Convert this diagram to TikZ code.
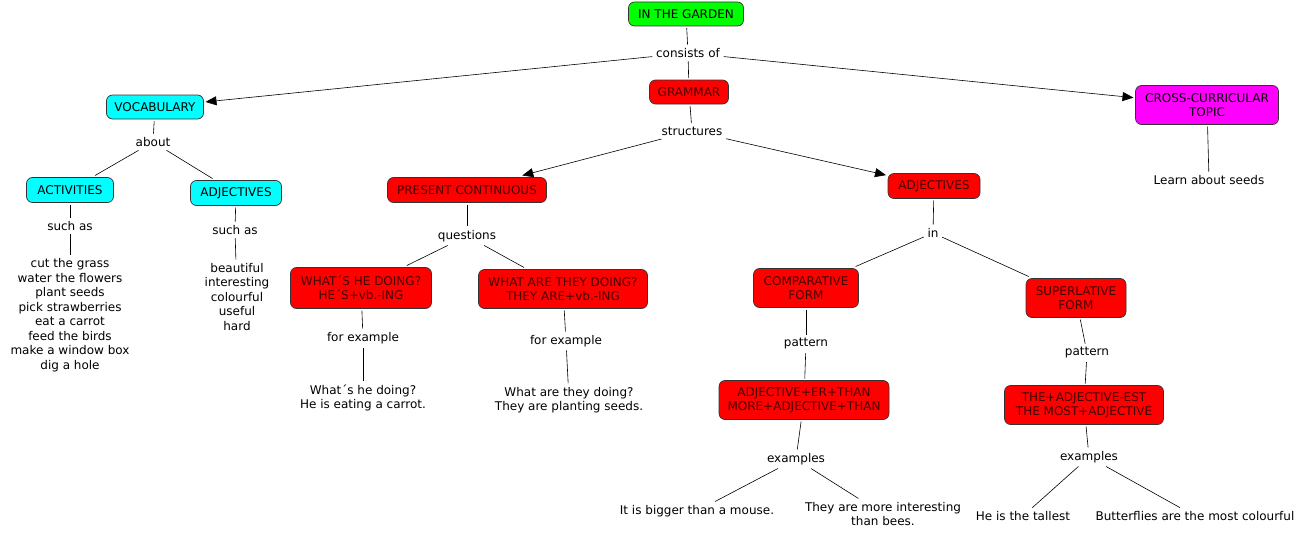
\documentclass[tikz,border=0pt]{standalone}
\usepackage{fontspec}
\setmainfont{DejaVu Sans}
\usetikzlibrary{arrows.meta}
\definecolor{redtext}{RGB}{70,0,0}
\definecolor{cmgreen}{RGB}{0,255,0}
\definecolor{cmcyan}{RGB}{0,255,255}
\definecolor{cmred}{RGB}{255,0,0}
\definecolor{cmmagenta}{RGB}{255,0,255}
\begin{document}
\begin{tikzpicture}
        \tikzstyle{cbox} = [rectangle, rounded corners=6pt, minimum height=24pt, text centered, align=center, draw=black!80, line width=0.7pt, inner sep=2pt, outer sep=2pt, font=\fontsize{12pt}{14.5pt}\selectfont]
        \tikzstyle{redbox} = [cbox, fill=cmred, text=redtext]
        \tikzstyle{phrase} = [text centered, align=center, inner sep=3.5pt, font=\fontsize{12pt}{14.5pt}\selectfont]
        \tikzstyle{conn} = [line width=0.6pt]
        \tikzstyle{arrow} = [line width=0.6pt,-{Triangle[length=11pt,width=9pt]}]

                \useasboundingbox (0,0) rectangle (1306pt,-535pt);

                \node (garden) [cbox, fill=cmgreen, minimum width=115pt] at (686pt,-14pt) {IN THE GARDEN};
                \node (cons) [phrase, node distance=39pt, below of=garden, xshift=2pt] {consists of};
                \node (gram) [redbox, minimum width=79pt, node distance=39pt, below of=cons, xshift=1pt] {GRAMMAR};
                \node (voc) [cbox, fill=cmcyan, minimum width=97pt, node distance=54pt, below of=cons, xshift=-533pt] {VOCABULARY};
                \node (cross) [cbox, fill=cmmagenta, minimum width=143pt, minimum height=39pt, node distance=52pt, below of=cons, xshift=519pt] {CROSS-CURRICULAR\\TOPIC};
                \node (seeds) [phrase, node distance=75pt, below of=cross, xshift=2pt] {Learn about seeds};

                \node (about) [phrase, node distance=35pt, below of=voc, xshift=-2pt] {about};
                \node (act) [cbox, fill=cmcyan, minimum width=87pt, minimum height=25pt, node distance=48pt, below of=about, xshift=-83pt] {ACTIVITIES};
                \node (adjv) [cbox, fill=cmcyan, minimum width=91pt, minimum height=25pt, node distance=51pt, below of=about, xshift=83pt] {ADJECTIVES};
                \node (sucha) [phrase, node distance=36pt, below of=act] {such as};
                \node (suchb) [phrase, node distance=37pt, below of=adjv, xshift=-1pt] {such as};
                \node (actlist) [phrase, node distance=89pt, below of=sucha] {cut the grass\\water the flowers\\plant seeds\\pick strawberries\\eat a carrot\\feed the birds\\make a window box\\dig a hole};
                \node (adjlist) [phrase, node distance=67pt, below of=suchb, xshift=2pt] {beautiful\\interesting\\colourful\\useful\\hard};

                \node (struct) [phrase, node distance=39pt, below of=gram, xshift=3pt] {structures};
                \node (pres) [redbox, minimum width=159pt, minimum height=25pt, node distance=59pt, below of=struct, xshift=-225pt] {PRESENT CONTINUOUS};
                \node (adjg) [redbox, minimum width=92pt, minimum height=25pt, node distance=55pt, below of=struct, xshift=242pt] {ADJECTIVES};

                \node (quest) [phrase, node distance=46pt, below of=pres] {questions};
                \node (whathe) [redbox, minimum width=141pt, minimum height=41pt, node distance=52pt, below of=quest, xshift=-106pt] {WHAT´S HE DOING?\\HE´S+vb.-ING};
                \node (whatthey) [redbox, minimum width=169pt, minimum height=39pt, node distance=53pt, below of=quest, xshift=96pt] {WHAT ARE THEY DOING?\\THEY ARE+vb.-ING};
                \node (fora) [phrase, node distance=50pt, below of=whathe, xshift=2pt] {for example};
                \node (forb) [phrase, node distance=52pt, below of=whatthey, xshift=3pt] {for example};
                \node (exa) [phrase, node distance=60pt, below of=fora] {What´s he doing?\\He is eating a carrot.};
                \node (exb) [phrase, node distance=59pt, below of=forb, xshift=3pt] {What are they doing?\\They are planting seeds.};

                \node (in) [phrase, node distance=47pt, below of=adjg, xshift=-1pt] {in};
                \node (comp) [redbox, minimum width=105pt, minimum height=39pt, node distance=55pt, below of=in, xshift=-127pt] {COMPARATIVE\\FORM};
                \node (sup) [redbox, minimum width=100pt, minimum height=39pt, node distance=65pt, below of=in, xshift=143pt] {SUPERLATIVE\\FORM};
                \node (pata) [phrase, node distance=56pt, below of=comp] {pattern};
                \node (patb) [phrase, node distance=55pt, below of=sup, xshift=11pt] {pattern};
                \node (rulea) [redbox, minimum width=170pt, minimum height=39pt, node distance=56pt, below of=pata, xshift=-2pt] {ADJECTIVE+ER+THAN\\MORE+ADJECTIVE+THAN};
                \node (ruleb) [redbox, minimum width=159pt, minimum height=39pt, node distance=52pt, below of=patb, xshift=-3pt] {THE+ADJECTIVE-EST\\THE MOST+ADJECTIVE};
                \node (exsa) [phrase, node distance=59pt, below of=rulea, xshift=-8pt] {examples};
                \node (exsb) [phrase, node distance=52pt, below of=ruleb, xshift=5pt] {examples};
                \node (bigger) [phrase, node distance=52pt, below of=exsa, xshift=-99pt] {It is bigger than a mouse.};
                \node (moreint) [phrase, node distance=55pt, below of=exsa, xshift=87pt] {They are more interesting\\than bees.};
                \node (tallest) [phrase, node distance=59pt, below of=exsb, xshift=-66pt] {He is the tallest};
                \node (butter) [phrase, node distance=59pt, below of=exsb, xshift=106pt] {Butterflies are the most colourful};

                \draw[conn] (garden) -- (cons);
                \draw[conn] (cons) -- (gram);
                \draw[arrow] (cons) -- (voc);
                \draw[arrow] (cons) -- (cross);
                \draw[conn] (cross) -- (seeds);
                \draw[conn] (voc) -- (about);
                \draw[conn] (about) -- (act);
                \draw[conn] (about) -- (adjv);
                \draw[conn] (act) -- (sucha);
                \draw[conn] (sucha) -- (actlist);
                \draw[conn] (adjv) -- (suchb);
                \draw[conn] (suchb) -- (adjlist);
                \draw[conn] (gram) -- (struct);
                \draw[arrow] (struct) -- (pres);
                \draw[arrow] (struct) -- (adjg);
                \draw[conn] (pres) -- (quest);
                \draw[conn] (quest) -- (whathe);
                \draw[conn] (quest) -- (whatthey);
                \draw[conn] (whathe) -- (fora);
                \draw[conn] (fora) -- (exa);
                \draw[conn] (whatthey) -- (forb);
                \draw[conn] (forb) -- (exb);
                \draw[conn] (adjg) -- (in);
                \draw[conn] (in) -- (comp);
                \draw[conn] (in) -- (sup);
                \draw[conn] (comp) -- (pata);
                \draw[conn] (pata) -- (rulea);
                \draw[conn] (sup) -- (patb);
                \draw[conn] (patb) -- (ruleb);
                \draw[conn] (rulea) -- (exsa);
                \draw[conn] (exsa) -- (bigger);
                \draw[conn] (exsa) -- (moreint);
                \draw[conn] (ruleb) -- (exsb);
                \draw[conn] (exsb) -- (tallest);
                \draw[conn] (exsb) -- (butter);

    \end{tikzpicture}
\end{document}
